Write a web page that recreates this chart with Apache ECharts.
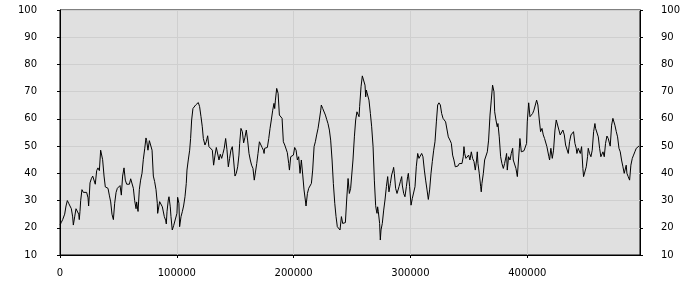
<!DOCTYPE html>
<html><head><meta charset="utf-8">
<script src="https://cdn.jsdelivr.net/npm/echarts@6/dist/echarts.min.js"></script>
<style>html,body{margin:0;padding:0;background:#fff}#c{width:700px;height:300px}</style>
</head><body><div id="c"></div>
<script>
// x positions and values, in segments
const xs1 = [0,1140,2280,3420,4000,5140,6280,7420,8560,9700,10840,11410,12550,13700,14800,16000,16500,17100,17700,18800,20000,21100,22800,24000,24500,25100,25700,26800,28000,29100,30200,31400,32500,33700,34800,35400,36000,36500,37700,38800,40000,41100,42200,43400,44500,45700,46800,48000,49100,50200,51400,52500,53600,54800,55900,57100,58200,59400,60500,61600,62800,63900,65100,65600,66800,67900,69000,70200,71300,72500,73600,74200,75300,76500,77600,78800,79900,81000,82200,83300];
const ys1 = [21,22,23,23,25,28,30,29,29,27,24,21,24,27,27,25,23,26,30,34,33,33,33,31,28,32,36.5,38,39,39,36,41,42,41,48.5,49,48,45,39,35,35.5,34.5,32,29.5,25,23,29,33,34.5,35,35.5,32,39,42,37.5,36,35.5,36,38,38,34.5,30,27,29.5,26,34,37.5,40,45,49,53,52,48.5,52,51.5,48.5,39,37,34,29];
const xs2 = [83600,85300,86400,87600,89300,90400,91000,91600,92700,93300,94400,95000,96100,97300,99000,100100,100700,101800,102400,103600,104700,105800,107000,108100,108700,109800,111000,111800,112700,113800,115000,116100,117200,118400,119500,120700,121800,122700,124100,125200,126400,127500,129200,130400,131500,132700,133800,134900,136100,137200,138400,139500,140600,141800,142900,144100,145200,146300,147500,148600,149800,150900,152100,153200,153800,154900,156100,157200,158300,159500,160600,161800,162900,164000,165200,166300];
const ys2 = [25.3,29.6,30.2,27.7,24.1,22.8,21.4,25.9,30.2,31.4,27.7,24.1,19.2,20.8,20.4,25.3,31.2,29.0,20.4,24.1,25.9,28.0,31.4,36.3,41.2,44.9,48.5,52.8,59.6,63.8,64.5,65.1,65.7,66.0,64.5,60.8,57.1,52.8,50.4,51.6,53.8,49.8,49.8,48.5,43.0,46.7,49.5,49.2,44.9,47.0,45.5,47.3,49.2,52.8,48.8,42.4,45.5,48.5,49.8,44.9,39.0,40.0,42.4,46.7,51.0,56.5,55.3,51.2,53.2,55.9,52.2,47.3,44.9,43.0,41.8,37.5];
const xs3 = [167300,168400,169500,170700,171800,173000,174100,174700,175200,176400,177500,178700,179800,180900,182100,183200,183800,184400,185500,186100,186700,187800,188900,190100,191200,192400,193500,194600,195800,196400,197500,198600,199800,200900,202100,203200,204300,205500,206600,207800,208900,210000,210600,211800,212900,214000,215200,216300,217500,218600,219700,220900,222000,223200,223700,224900,226000,227200,228300,229400,230600,231700,232900,234000,235200,236300,237400,238600,239700,240900,242000,243100,244300,245400,246600,247700,248800];
const ys3 = [38.1,43.6,47.3,51.6,51.0,49.5,48.5,47.3,49.2,49.5,49.5,52.8,56.5,59.6,63.2,65.7,63.8,66.9,71.2,71.8,69.4,61.4,60.8,60.2,51.6,50.4,50.0,47.6,43.6,41.2,46.1,45.5,46.7,49.5,48.5,44.9,46.1,40.0,44.9,39.4,33.9,30.2,28.0,32.6,34.5,33.9,36.3,41.2,49.8,51.6,54.1,56.5,59.6,63.2,65.1,63.8,63.2,61.4,59.8,58.3,55.9,52.2,44.9,36.3,29.0,24.1,20.4,21.0,19.2,24.1,21.6,21.9,21.9,30.2,38.1,32.6,34.5];
const xs4 = [249700,250800,252000,253100,254200,255400,256000,256500,257700,258800,259400,260000,261100,261700,262200,263400,264500,265700,266800,268000,269100,270200,270800,271400,271900,272500,273600,274200,274800,275400,275900,277100,278200,279400,280500,281100,281600,282800,283900,285100,285600,286200,287300,288500,289100,290200,291300,292500,293000,294200,295300,296500,297600,298200,299300,300500,301600,302800,303900,305000,306200,307300,308500,309600,310700,311900,313000,314200,315300,316400,317600,318700,319900,321000,322200,323300,324400,325600,326700,327900,329000,330100,331300,332400];
const ys4 = [35.1,44.9,53.4,59.6,62.6,63.2,60.8,64.5,71.8,75.8,76.1,75.7,72.4,68.1,70.6,70.0,66.9,62.0,57.1,49.8,37.5,28.1,26.5,25.3,27.7,25.9,21.6,15.5,19.2,18.6,21.6,26.5,30.2,35.1,38.8,35.7,33.2,36.3,39.4,41.2,42.2,40.0,34.5,32.6,32.0,35.1,36.9,38.8,35.7,32.6,31.4,35.1,38.8,40.0,35.1,28.3,30.8,30.2,35.1,42.4,47.3,45.5,44.9,47.3,46.1,41.2,37.5,33.9,30.4,33.9,40.0,44.3,48.5,51.6,58.9,65.1,65.9,65.1,62.0,60.2,60.2,58.9,59.6,53.4];
const xs5 = [332700,333800,335000,336100,337200,338400,339500,340700,341800,343000,344100,345200,345800,346400,347500,348700,349800,350900,352100,353200,354400,355500,356600,357200,357800,358900,360100,360600,361200,362400,363500,364600,365800,366900,368100,369200,370300,370900,371500,372100,373200,374300,374900,376000,377200,378300,379500,380000,380600,381800,382300,382900,384000,385200,386300,387500,388000,389200,390300,391500,392000,393200,393700,394900,396000,397200,398300,399400,400000,401200,402300,403400,404600,405700,406900,408000,409100,410300,411400,412600,413700,414800];
const ys5 = [53.4,52.2,51.0,46.7,44.9,42.4,42.7,42.7,43.6,44.3,43.6,46.1,49.8,47.3,45.5,46.1,46.7,44.9,47.9,45.5,44.3,41.2,44.9,47.9,43.6,40.0,35.1,33.2,36.3,40.0,44.9,45.5,47.9,52.2,61.4,66.9,72.4,73.0,70.0,62.6,59.6,57.1,58.3,53.4,46.1,43.6,41.8,41.2,43.6,46.1,47.3,41.2,46.1,44.9,47.3,49.2,44.9,45.5,41.8,38.8,39.4,49.2,52.8,47.9,47.3,48.3,48.5,51.0,58.9,65.9,60.8,61.0,62.0,63.2,65.1,66.9,65.1,59.6,55.3,56.5,54.1,52.8];
const xs6 = [415700,416800,418000,418500,419100,420200,421400,422500,423700,424800,425400,426000,427100,428200,429400,430500,431700,432800,433900,435100,436200,437400,438500,439600,440800,441900,442500,443600,444800,445400,446500,447600,448200,449300,450500,451600,452200,453300,454500,455600,456800,457900,458500,459600,460800,461900,463000,464200,464800,465900,467000,468200,469300,470500,471000,472200,473300,473900,475000,476200,477300,478500,479600,480700,481900,483000,484200,484700,485300,486400,487600,488700,489900,491000,492100,493300,494400,495600,496100];
const ys6 = [52.8,49.8,49.2,46.1,44.9,49.2,45.5,48.5,55.9,59.6,60.2,58.9,55.9,54.1,54.1,55.9,54.1,50.4,51.0,47.3,51.6,54.1,54.1,55.3,51.0,49.2,47.3,49.2,48.5,47.3,49.8,41.8,38.8,39.4,42.4,46.1,49.2,47.3,46.1,48.5,55.3,58.3,56.5,56.5,53.4,49.2,46.1,46.1,47.9,46.1,51.0,53.7,52.8,52.2,50.0,57.7,60.2,60.8,57.7,55.3,53.4,49.2,47.9,44.9,42.4,40.0,40.6,43.0,40.0,38.8,37.5,43.0,45.5,46.7,47.9,49.2,49.8,50.0,49.8];

const xMin = 0, xMax = 496500, xStep = 100000;
const yMin = 10, yMax = 100, yStep = 10;

const segs = [[xs1,ys1],[xs2,ys2],[xs3,ys3],[xs4,ys4],[xs5,ys5],[xs6,ys6]];
const data = [];
segs.forEach(([a,b]) => { const n = Math.min(a.length,b.length); for (let i=0;i<n;i++) data.push([a[i], b[i]]); });

const font = {fontFamily: 'DejaVu Sans', fontSize: 10, color: '#000'};
const chart = echarts.init(document.getElementById('c'), null, {renderer: 'canvas'});
const yAxisBase = (pos, margin, split) => ({
  type: 'value', position: pos, min: yMin, max: yMax, interval: yStep,
  axisLine: {show: true, lineStyle: {color: '#000', width: 1}},
  axisTick: {show: true, length: 3, lineStyle: {color: '#000'}},
  axisLabel: Object.assign({margin: margin}, font),
  splitLine: {show: split, lineStyle: {color: '#cfcfcf', width: 1}}
});
chart.setOption({
  animation: false,
  backgroundColor: '#fff',
  grid: {left: 60, right: 60, top: 10, bottom: 45, show: true, backgroundColor: '#e0e0e0', borderColor: '#000', borderWidth: 1},
  xAxis: {
    type: 'value', min: xMin, max: xMax, interval: xStep,
    axisLine: {show: true, onZero: false, lineStyle: {color: '#000', width: 1}},
    axisTick: {show: true, length: 3, lineStyle: {color: '#000'}},
    axisLabel: Object.assign({margin: 13, showMaxLabel: false, formatter: v => String(v)}, font),
    splitLine: {show: true, lineStyle: {color: '#cfcfcf', width: 1}}
  },
  yAxis: [yAxisBase('left', 23, true), yAxisBase('right', 21, false)],
  series: [{
    type: 'line', data: data, showSymbol: false, symbol: 'none',
    lineStyle: {color: '#000', width: 1}, yAxisIndex: 0
  }]
});
</script></body></html>
